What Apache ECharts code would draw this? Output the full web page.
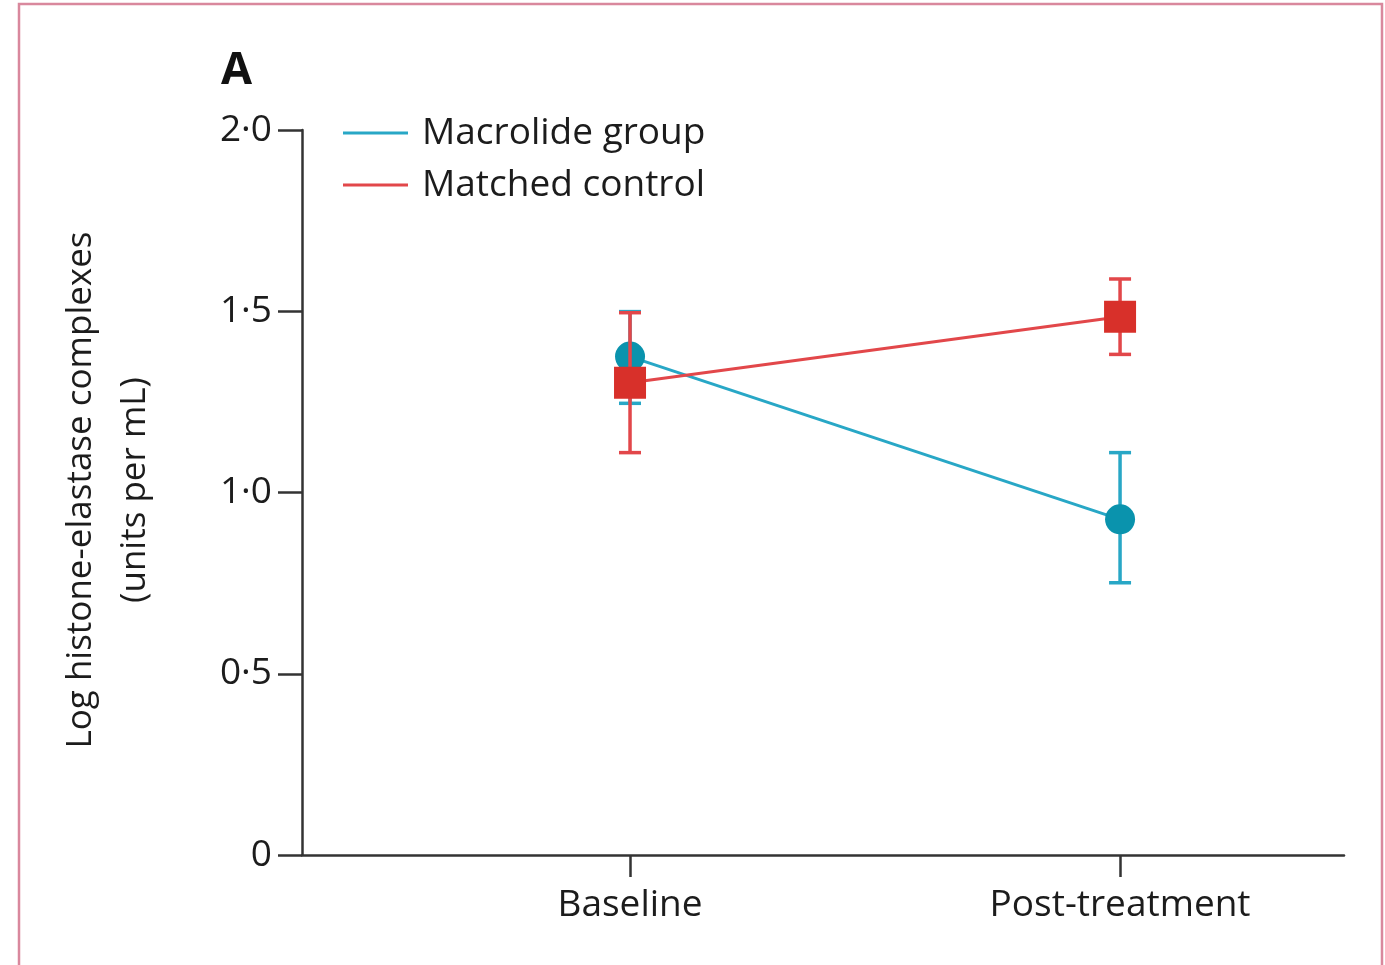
<!DOCTYPE html>
<html>
<head>
<meta charset="utf-8">
<script src="https://cdn.jsdelivr.net/npm/echarts@6/dist/echarts.min.js"></script>
<style>
html,body{margin:0;padding:0;background:#fff;}
#chart{width:1385px;height:965px;}
</style>
</head>
<body>
<div id="chart"></div>
<script>
// ---- data ----
var categories = ['Baseline', 'Post-treatment'];
var categoryX = [1, 2];
var macrolideMean = [1.375, 0.926];
var macrolideLow  = [1.246, 0.751];
var macrolideHigh = [1.499, 1.110];
var controlMean = [1.303, 1.485];
var controlLow  = [1.110, 1.381];
var controlHigh = [1.496, 1.589];
var yTicks = [0, 0.5, 1.0, 1.5, 2.0];
var yTickLabels = ['0', '0·5', '1·0', '1·5', '2·0'];
var seriesNames = ['Macrolide group', 'Matched control'];
var yTitle = 'Log histone-elastase complexes\n(units per mL)';
var panelLabel = 'A';

var FONT = 'Open Sans';
var TXT = '#1c1c1c';
var BLUE_LINE = '#28a7c6', BLUE_MARK = '#0a93ad';
var RED_LINE = '#e2474a', RED_MARK = '#d8302a';

function pts(mean){ return categoryX.map(function(x,i){ return [x, mean[i]]; }); }
function errData(low, high){ return categoryX.map(function(x,i){ return [x, low[i], high[i]]; }); }

function errRender(color){
  return function(params, api){
    var x = api.value(0);
    var lo = api.coord([x, api.value(1)]);
    var hi = api.coord([x, api.value(2)]);
    var hw = 11;
    var st = {stroke: color, lineWidth: 3.5};
    return {type:'group', children:[
      {type:'line', shape:{x1:lo[0], y1:lo[1], x2:hi[0], y2:hi[1]}, style:st},
      {type:'line', shape:{x1:lo[0]-hw, y1:lo[1], x2:lo[0]+hw, y2:lo[1]}, style:st},
      {type:'line', shape:{x1:hi[0]-hw, y1:hi[1], x2:hi[0]+hw, y2:hi[1]}, style:st}
    ]};
  };
}

var legendText = {fontSize:37, color:TXT, fontFamily:FONT, lineHeight:40, padding:[0,0,0,9]};

var chart = echarts.init(document.getElementById('chart'), null, {renderer:'canvas'});
var option = {
  backgroundColor: '#ffffff',
  animation: false,
  textStyle: {fontFamily: FONT},
  grid: {left: 302, right: 41, top: 130, bottom: 110, containLabel: false},
  graphic: [
    {type:'rect', shape:{x:19, y:4, width:1363, height:1000}, style:{fill:'none', stroke:'#d9889d', lineWidth:2.5}, z:-10},
    {type:'text', x:221, y:49, style:{text: panelLabel, font:'bold 45px "' + FONT + '"', fill:'#111'}},
    {type:'text', x:108, y:490, rotation: Math.PI/2,
      style:{text: yTitle, font:'35px "' + FONT + '"', fill:TXT, align:'center', verticalAlign:'middle', lineHeight:54}}
  ],
  legend: [
    {data:[{name: seriesNames[0], itemStyle:{color: BLUE_LINE}}], left:343, top:113, padding:0, icon:'rect', itemWidth:65, itemHeight:3,
      textStyle:legendText, selectedMode:false},
    {data:[{name: seriesNames[1], itemStyle:{color: RED_LINE}}], left:343, top:165, padding:0, icon:'rect', itemWidth:65, itemHeight:3,
      textStyle:legendText, selectedMode:false}
  ],
  xAxis: {
    type:'value', min:0.3306, max:2.457,
    axisLine:{show:true, lineStyle:{color:'#333', width:2.5}},
    axisTick:{show:true, customValues: categoryX, length:22, inside:false, lineStyle:{color:'#333', width:2.5}},
    axisLabel:{show:true, customValues: categoryX, margin:32, fontSize:37, color:TXT, fontFamily:FONT,
      formatter:function(v){ var i = categoryX.indexOf(v); return i>=0 ? categories[i] : ''; }},
    splitLine:{show:false}
  },
  yAxis: {
    type:'value', min:0, max:2, interval:0.5,
    axisLine:{show:true, lineStyle:{color:'#333', width:2.5}},
    axisTick:{show:true, length:24, inside:false, lineStyle:{color:'#333', width:2.5}},
    axisLabel:{margin:30, fontSize:37, color:TXT, fontFamily:FONT,
      formatter:function(v){ var i = -1; yTicks.forEach(function(t,k){ if(Math.abs(t-v)<1e-6) i=k; }); return i>=0 ? yTickLabels[i] : ''; }},
    splitLine:{show:false}
  },
  series: [
    {type:'custom', name:'macErr', renderItem: errRender(BLUE_LINE), data: errData(macrolideLow, macrolideHigh), z:2, silent:true},
    {type:'line', name: seriesNames[0], data: pts(macrolideMean), symbol:'circle', symbolSize:30,
      lineStyle:{color:BLUE_LINE, width:3}, itemStyle:{color:BLUE_MARK}, z:3},
    {type:'custom', name:'ctlErr', renderItem: errRender(RED_LINE), data: errData(controlLow, controlHigh), z:4, silent:true},
    {type:'line', name: seriesNames[1], data: pts(controlMean), symbol:'rect', symbolSize:32,
      lineStyle:{color:RED_LINE, width:3}, itemStyle:{color:RED_MARK}, z:5}
  ]
};
chart.setOption(option);
</script>
</body>
</html>
